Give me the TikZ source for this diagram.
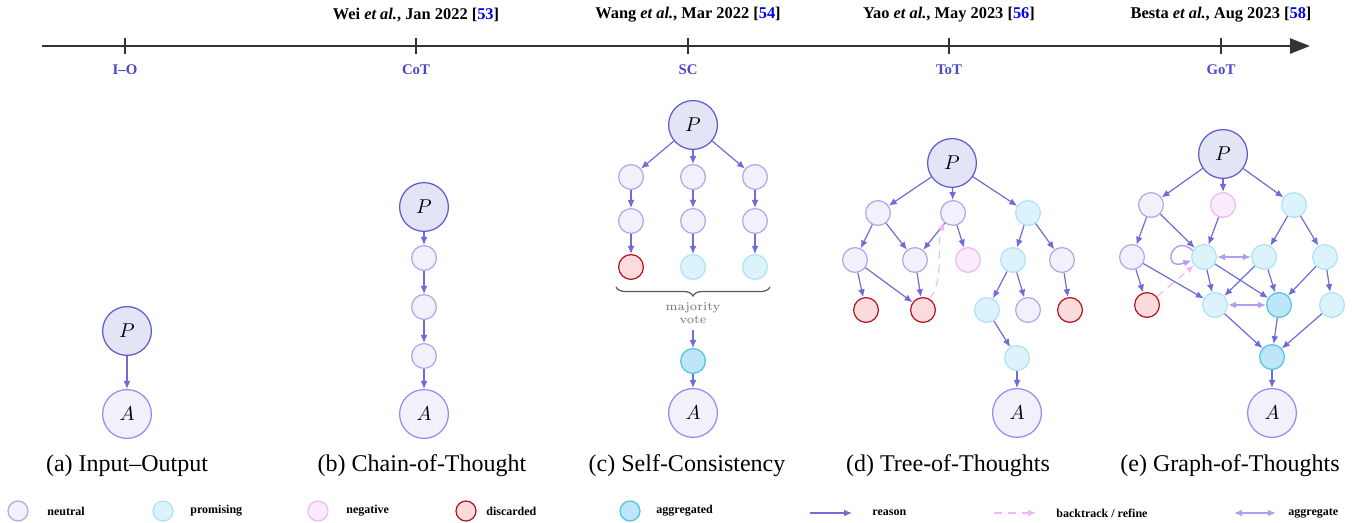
\documentclass[tikz,border=0pt]{standalone}
\usepackage{fontspec}
\newfontfamily\timesfont{Liberation Serif}
\usetikzlibrary{arrows.meta,decorations.pathreplacing}

\definecolor{promptline}{HTML}{5B57CC}
\definecolor{promptfill}{HTML}{E4E4F7}
\definecolor{answerline}{HTML}{9B85EE}
\definecolor{answerfill}{HTML}{F1F0FB}
\definecolor{neutralline}{HTML}{ADA8E8}
\definecolor{neutralfill}{HTML}{F1F1FB}
\definecolor{promisingline}{HTML}{ABE2F6}
\definecolor{promisingfill}{HTML}{DDF3FC}
\definecolor{negativeline}{HTML}{F0B8F2}
\definecolor{negativefill}{HTML}{FBE9FC}
\definecolor{discardedline}{HTML}{B3141B}
\definecolor{discardedfill}{HTML}{FDDADC}
\definecolor{aggregatedline}{HTML}{4CC3EA}
\definecolor{aggregatedfill}{HTML}{BEE6F8}
\definecolor{reasoncol}{HTML}{6F6BD8}
\definecolor{backcol}{HTML}{F2B8F5}
\definecolor{aggcol}{HTML}{B39BF2}
\definecolor{methodblue}{HTML}{4A47CF}
\definecolor{citeblue}{HTML}{0000EE}
\definecolor{votegray}{HTML}{707070}

\begin{document}
\begin{tikzpicture}[x=0.5pt,y=-0.5pt,
	thought/.style={circle,line width=0.6pt,minimum size=12.4pt,inner sep=0pt},
	bignode/.style={circle,line width=0.6pt,minimum size=24.4pt,inner sep=0pt,font=\fontsize{10}{12}\selectfont},
	prompt/.style={bignode,draw=promptline,fill=promptfill},
	answer/.style={bignode,draw=answerline,fill=answerfill},
	neutral/.style={thought,draw=neutralline,fill=neutralfill},
	promising/.style={thought,draw=promisingline,fill=promisingfill},
	negative/.style={thought,draw=negativeline,fill=negativefill},
	discarded/.style={thought,draw=discardedline,fill=discardedfill},
	aggregated/.style={thought,draw=aggregatedline,fill=aggregatedfill},
	reason/.style={-{Latex[length=4pt,width=3.4pt]},draw=reasoncol,line width=0.6pt},
	backtrack/.style={-{Latex[length=4pt,width=3.4pt]},draw=backcol,dash pattern=on 4pt off 3pt,line width=0.6pt},
	aggregate/.style={{Latex[length=4pt,width=3.4pt]}-{Latex[length=4pt,width=3.4pt]},draw=aggcol,line width=0.8pt},
	ref/.style={inner sep=0pt,font=\timesfont\bfseries\fontsize{8.2}{10}\selectfont},
	method/.style={inner sep=0pt,text=methodblue,font=\timesfont\bfseries\fontsize{7.4}{9}\selectfont},
	caption/.style={inner sep=0pt,font=\timesfont\fontsize{12}{14}\selectfont},
	keytext/.style={inner sep=0pt,anchor=west,font=\timesfont\bfseries\fontsize{6}{7}\selectfont}]

	\useasboundingbox (0,0) rectangle (1359,523);

	% timeline
	\coordinate (tl-start) at (42,46);
	\coordinate (tl-end) at (1310,46);
	\draw[line width=1.25pt,draw=black!80,-{Triangle[length=10pt,width=7.5pt]}] (tl-start) -- (tl-end);
	\foreach \x/\lab in {125/I–O, 416/CoT, 688/SC, 949/ToT, 1221/GoT}{
		\draw[line width=1pt,draw=black!80] (\x,38) -- (\x,54);
		\node[method] (tick\x) at (\x,70) {\lab};
	}
	\node[ref] (cotref) at (416,15) {Wei \textit{et al.}, Jan 2022 [\textcolor{citeblue}{53}]};
	\node[ref] (scref) at (688,15) {Wang \textit{et al.}, Mar 2022 [\textcolor{citeblue}{54}]};
	\node[ref] (totref) at (949,15) {Yao \textit{et al.}, May 2023 [\textcolor{citeblue}{56}]};
	\node[ref] (gotref) at (1221,15) {Besta \textit{et al.}, Aug 2023 [\textcolor{citeblue}{58}]};

	% (a) input-output
	\node[prompt] (io-p) at (127,331) {$P$};
	\node[answer] (io-a) at (127,414) {$A$};
	\draw[reason] (io-p) -- (io-a);

	% (b) chain of thought
	\node[prompt] (cot-p) at (424,207) {$P$};
	\foreach \i/\y in {1/258, 2/307, 3/356}{
		\node[neutral] (cot-\i) at (424,\y) {};
	}
	\node[answer] (cot-a) at (424,414) {$A$};
	\draw[reason] (cot-p) -- (cot-1);
	\draw[reason] (cot-1) -- (cot-2);
	\draw[reason] (cot-2) -- (cot-3);
	\draw[reason] (cot-3) -- (cot-a);

	% (c) self consistency
	\node[prompt] (sc-p) at (693,125) {$P$};
	\foreach \c/\x/\last in {l/631/discarded, m/693/promising, r/755/promising}{
		\node[neutral] (sc-\c1) at (\x,177) {};
		\node[neutral] (sc-\c2) at (\x,221) {};
		\node[\last] (sc-\c3) at (\x,267) {};
		\draw[reason] (sc-p) -- (sc-\c1);
		\draw[reason] (sc-\c1) -- (sc-\c2);
		\draw[reason] (sc-\c2) -- (sc-\c3);
	}
	\coordinate (brace-l) at (616,287);
	\coordinate (brace-r) at (770,287);
	\draw[decorate,decoration={brace,mirror,amplitude=4.5pt},draw=black!65,line width=0.6pt] (brace-l) -- (brace-r);
	\node[inner sep=0pt,align=center,text=votegray,font=\fontsize{6}{6.5}\selectfont] (sc-vote) at (693,313) {majority\\vote};
	\node[aggregated] (sc-agg) at (693,361) {};
	\node[answer] (sc-a) at (693,413) {$A$};
	\draw[reason,shorten <=3pt] (sc-vote) -- (sc-agg);
	\draw[reason] (sc-agg) -- (sc-a);

	% (d) tree of thoughts
	\node[prompt] (tot-p) at (952,163) {$P$};
	\node[neutral] (tot-a) at (878,213) {};
	\node[neutral] (tot-b) at (953,213) {};
	\node[promising] (tot-c) at (1028,213) {};
	\node[neutral] (tot-d) at (855,260) {};
	\node[neutral] (tot-e) at (915,260) {};
	\node[negative] (tot-f) at (968,260) {};
	\node[promising] (tot-g) at (1013,260) {};
	\node[neutral] (tot-h) at (1062,260) {};
	\node[discarded] (tot-i) at (866,310) {};
	\node[discarded] (tot-j) at (923,310) {};
	\node[promising] (tot-k) at (987,310) {};
	\node[neutral] (tot-l) at (1028,310) {};
	\node[discarded] (tot-m) at (1070,310) {};
	\node[promising] (tot-n) at (1017,358) {};
	\node[answer] (tot-ans) at (1017,413) {$A$};
	\foreach \s/\t in {p/a, p/b, p/c, a/d, a/e, b/e, b/f, c/g, c/h, d/i, d/j, e/j, g/k, g/l, h/m, k/n, n/ans}{
		\draw[reason] (tot-\s) -- (tot-\t);
	}
	\draw[backtrack] (tot-j.60) .. controls (945,280) and (936,245) .. (tot-b.225);

	% (e) graph of thoughts
	\node[prompt] (got-p) at (1223,154) {$P$};
	\node[neutral] (got-a) at (1151,205) {};
	\node[negative] (got-b) at (1223,205) {};
	\node[promising] (got-c) at (1294,205) {};
	\node[neutral] (got-d) at (1132,257) {};
	\node[promising] (got-e) at (1204,257) {};
	\node[promising] (got-f) at (1264,257) {};
	\node[promising] (got-g) at (1325,257) {};
	\node[discarded] (got-h) at (1147,305) {};
	\node[promising] (got-i) at (1215,305) {};
	\node[aggregated] (got-j) at (1279,305) {};
	\node[promising] (got-k) at (1332,305) {};
	\node[aggregated] (got-l) at (1272,357) {};
	\node[answer] (got-ans) at (1272,413) {$A$};
	\foreach \s/\t in {p/a, p/b, p/c, a/d, a/e, b/e, c/f, c/g, d/h, d/i, e/i, e/j, f/i, f/j, g/j, g/k, i/l, j/l, k/l, l/ans}{
		\draw[reason] (got-\s) -- (got-\t);
	}
	\draw[aggregate] (got-e) -- (got-f);
	\draw[aggregate] (got-i) -- (got-j);
	\draw[backtrack] (got-h) -- (got-e);
	\draw[-{Latex[length=4pt,width=3.4pt]},draw=aggcol,line width=0.7pt] (got-e.150) .. controls (1172,232) and (1160,272) .. (got-e.195);

	% captions
	\node[caption] (cap-a) at (127,466) {(a) Input–Output};
	\node[caption] (cap-b) at (422,466) {(b) Chain-of-Thought};
	\node[caption] (cap-c) at (687,466) {(c) Self-Consistency};
	\node[caption] (cap-d) at (948,466) {(d) Tree-of-Thoughts};
	\node[caption] (cap-e) at (1230,466) {(e) Graph-of-Thoughts};

	% legend
	\foreach \x/\s/\lx in {18/neutral/47, 163/promising/190, 318/negative/346, 466/discarded/486, 630/aggregated/656}{
		\node[\s,minimum size=10pt] (key-\s) at (\x,511) {};
		\node[keytext] (keylab-\s) at (\lx,511) {\s};
	}
	\coordinate (kr-s) at (810,513);
	\coordinate (kr-e) at (852,513);
	\draw[reason] (kr-s) -- (kr-e);
	\node[keytext] (keylab-reason) at (872,513) {reason};
	\coordinate (kb-s) at (994,513);
	\coordinate (kb-e) at (1036,513);
	\draw[backtrack] (kb-s) -- (kb-e);
	\node[keytext] (keylab-back) at (1056,513) {backtrack / refine};
	\coordinate (ka-s) at (1234,513);
	\coordinate (ka-e) at (1276,513);
	\draw[aggregate] (ka-s) -- (ka-e);
	\node[keytext] (keylab-agg) at (1288,513) {aggregate};
\end{tikzpicture}
\end{document}
